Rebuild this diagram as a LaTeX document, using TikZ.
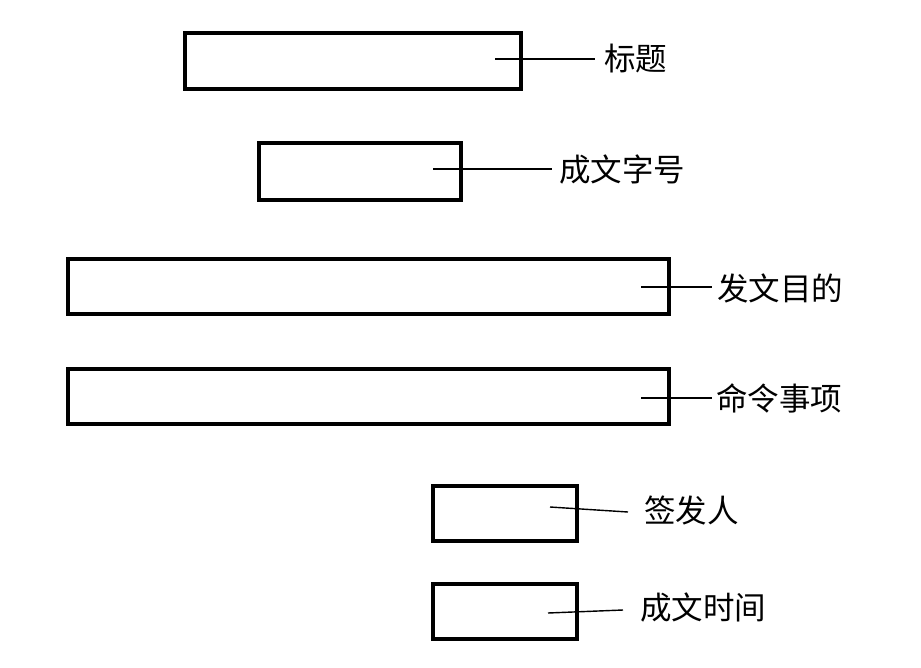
\documentclass[tikz,border=0pt]{standalone}
\usepackage{fontspec}
\newfontfamily\cjk{Noto Sans CJK SC}
\begin{document}
\begin{tikzpicture}[x=1pt,y=-1pt,
  field/.style={draw, line width=3.2pt, inner sep=0pt, outer sep=0pt, rectangle},
  lead/.style={line width=1.4pt},
  lbl/.style={anchor=west, inner sep=0pt, font=\cjk\fontsize{31.5}{31.5}\selectfont}]
\useasboundingbox (0,0) rectangle (921,667);
% boxes
\node[field, minimum width=336pt, minimum height=56pt] (b1) at (353,61) {};
\node[field, minimum width=202pt, minimum height=57pt] (b2) at (360,171.5) {};
\node[field, minimum width=601pt, minimum height=55pt] (b3) at (368.5,286.5) {};
\node[field, minimum width=601pt, minimum height=55pt] (b4) at (368.5,396.5) {};
\node[field, minimum width=144pt, minimum height=55pt] (b5) at (505,513.5) {};
\node[field, minimum width=144pt, minimum height=55pt] (b6) at (505,611.5) {};
% labels
\node[lbl] (t1) at (604,59) {标题};
\node[lbl] (t2) at (559,170) {成文字号};
\node[lbl] (t3) at (717,288) {发文目的};
\node[lbl] (t4) at (716,398) {命令事项};
\node[lbl] (t5) at (644,510) {签发人};
\node[lbl] (t6) at (640,608) {成文时间};
% leaders
\coordinate (s1) at (495,59);  \coordinate (e1) at (595,59);
\coordinate (s2) at (433,169); \coordinate (e2) at (552,169);
\coordinate (s3) at (641,287); \coordinate (e3) at (712,287);
\coordinate (s4) at (641,398); \coordinate (e4) at (712,398);
\coordinate (s5) at (550,507); \coordinate (e5) at (628,512);
\coordinate (s6) at (548,613); \coordinate (e6) at (623,610);
\foreach \i in {1,...,6} \draw[lead] (s\i) -- (e\i);
\end{tikzpicture}
\end{document}
